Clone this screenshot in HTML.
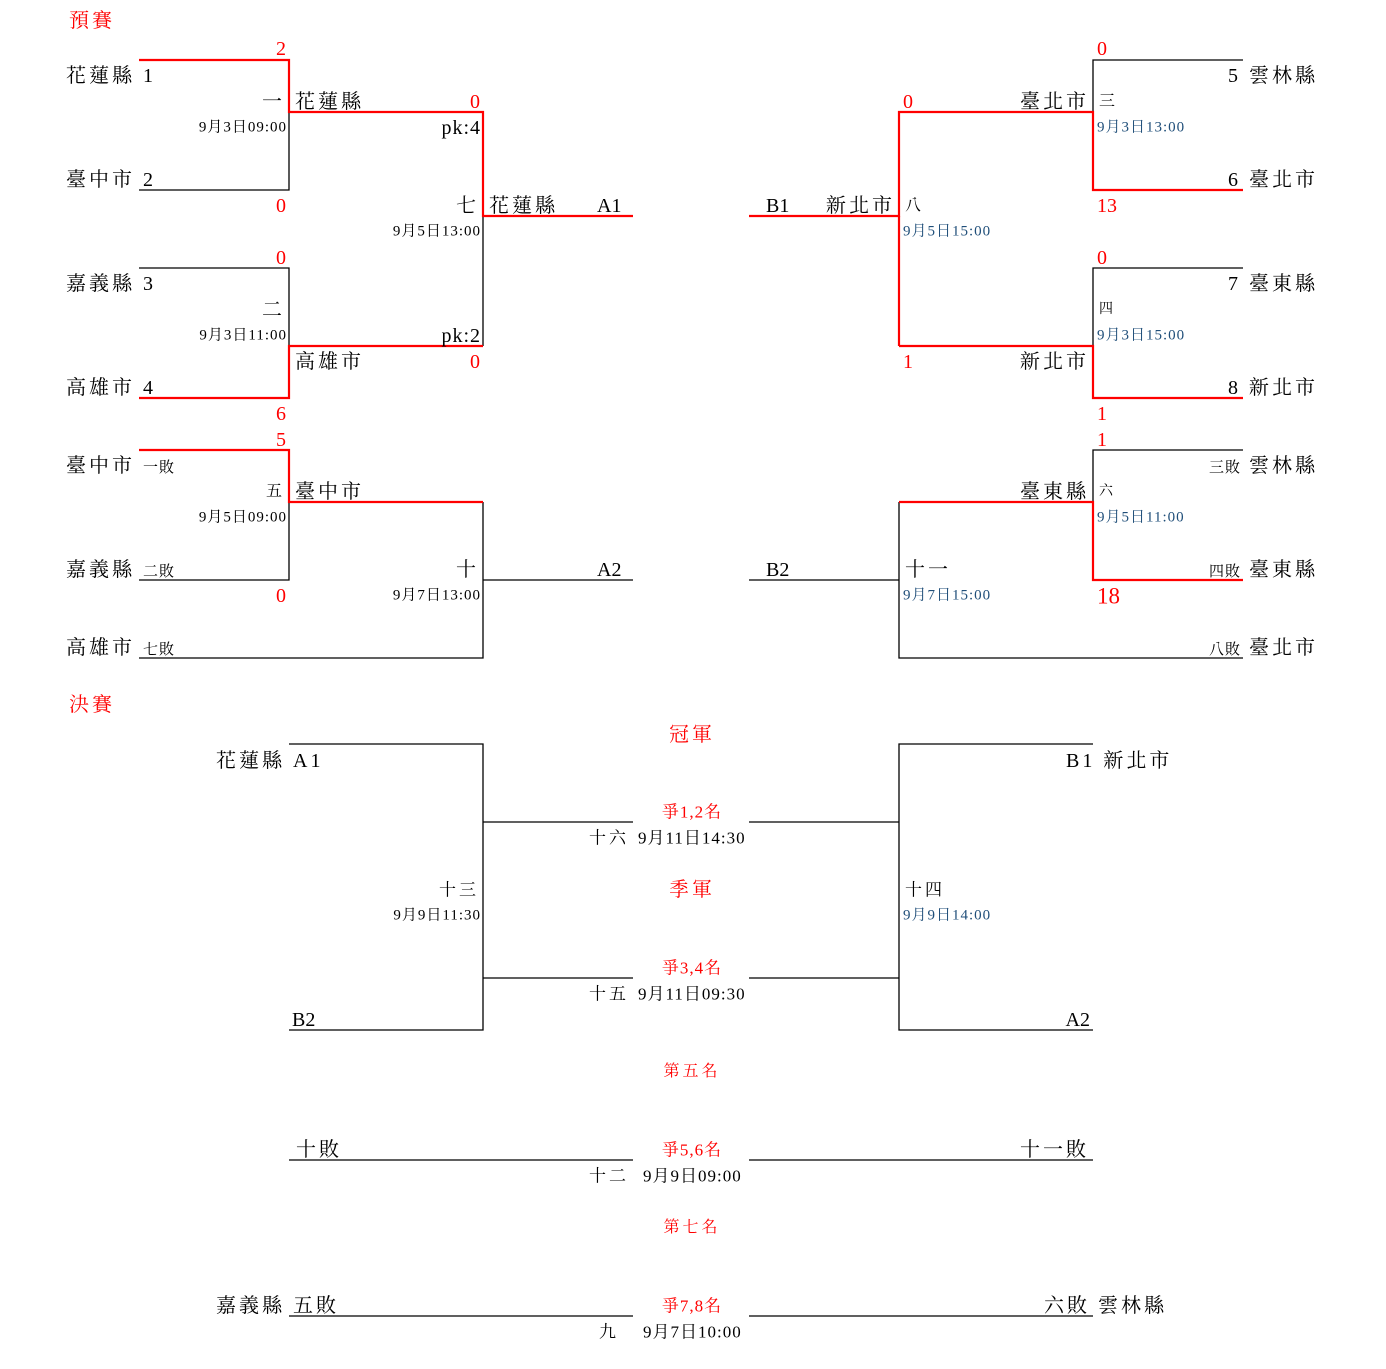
<!DOCTYPE html>
<html><head><meta charset="utf-8"><style>
html,body{margin:0;padding:0;background:#fff;}
body{width:1386px;height:1369px;position:relative;overflow:hidden;font-family:"Liberation Serif","Noto Serif CJK TC",serif;color:#000;}
.t{position:absolute;white-space:nowrap;line-height:1;font-size:20px;letter-spacing:3px;transform:translateY(-50%);margin-top:1px;}
.r{color:#f00;}
.s{font-size:15px;letter-spacing:1px;}
.b{color:#1f4e79;}
.cx{transform:translate(-50%,-50%);}
svg{position:absolute;left:0;top:0;}
</style></head><body>
<svg width="1386" height="1369" fill="none" stroke-width="1.3">
<g stroke="#000">
<path d="M289 112V190H139"/>
<path d="M139 268H289V346"/>
<path d="M483 216V346"/>
<path d="M289 502V580H139"/>
<path d="M483 502V658H139"/>
<path d="M483 580H633"/>
<path d="M1243 60H1093V112"/>
<path d="M1243 268H1093V346"/>
<path d="M1243 450H1093V502"/>
<path d="M899 502V658H1243"/>
<path d="M749 580H899"/>
<path d="M289 744H483V1030H289"/>
<path d="M483 822H633M483 978H633"/>
<path d="M1093 744H899V1030H1093"/>
<path d="M749 822H899M749 978H899"/>
<path d="M289 1160H633M749 1160H1093"/>
<path d="M289 1316H633M749 1316H1093"/>
</g>
<g stroke="#f00" stroke-width="2.2">
<path d="M139 60H289V112H483V216H633"/>
<path d="M139 398H289V346H483"/>
<path d="M139 450H289V502H483"/>
<path d="M1243 190H1093V112H899V216H749"/>
<path d="M899 216V346"/>
<path d="M1243 398H1093V346H899"/>
<path d="M1243 580H1093V502H899"/>
</g>
</svg>

<div class="t r" style="left:69px;top:20px">預賽</div>
<div class="t" style="left:66px;top:75px">花蓮縣 1</div>
<div class="t r" style="left:276px;top:48px">2</div>
<div class="t" style="right:1101px;top:101px">一</div>
<div class="t" style="left:295px;top:101px">花蓮縣</div>
<div class="t r" style="left:470px;top:101px">0</div>
<div class="t s" style="right:1099px;top:127px">9月3日09:00</div>
<div class="t" style="right:905px;top:127px;letter-spacing:1px">pk:4</div>
<div class="t" style="left:66px;top:179px">臺中市 2</div>
<div class="t r" style="left:276px;top:205px">0</div>
<div class="t" style="right:907px;top:205px">七</div>
<div class="t" style="left:489px;top:205px">花蓮縣</div>
<div class="t" style="left:597px;top:205px;letter-spacing:0">A1</div>
<div class="t s" style="right:905px;top:231px">9月5日13:00</div>
<div class="t r" style="left:276px;top:257px">0</div>
<div class="t" style="left:66px;top:283px">嘉義縣 3</div>
<div class="t" style="right:1101px;top:309px">二</div>
<div class="t s" style="right:1099px;top:335px">9月3日11:00</div>
<div class="t" style="right:905px;top:335px;letter-spacing:1px">pk:2</div>
<div class="t" style="left:295px;top:361px">高雄市</div>
<div class="t r" style="left:470px;top:361px">0</div>
<div class="t" style="left:66px;top:387px">高雄市 4</div>
<div class="t r" style="left:276px;top:413px">6</div>
<div class="t r" style="left:276px;top:439px">5</div>
<div class="t" style="left:66px;top:465px">臺中市 <span class="s">一敗</span></div>
<div class="t" style="right:1101px;top:491px;font-size:16px">五</div>
<div class="t" style="left:295px;top:491px">臺中市</div>
<div class="t s" style="right:1099px;top:517px">9月5日09:00</div>
<div class="t" style="left:66px;top:569px">嘉義縣 <span class="s">二敗</span></div>
<div class="t" style="right:907px;top:569px">十</div>
<div class="t" style="left:597px;top:569px;letter-spacing:0">A2</div>
<div class="t r" style="left:276px;top:595px">0</div>
<div class="t s" style="right:905px;top:595px">9月7日13:00</div>
<div class="t" style="left:66px;top:647px">高雄市 <span class="s">七敗</span></div>

<div class="t r" style="left:1097px;top:48px">0</div>
<div class="t" style="right:68px;top:75px">5 雲林縣</div>
<div class="t r" style="left:903px;top:101px">0</div>
<div class="t" style="right:297px;top:101px">臺北市</div>
<div class="t" style="left:1099px;top:101px;font-size:16px">三</div>
<div class="t s b" style="left:1097px;top:127px">9月3日13:00</div>
<div class="t" style="right:68px;top:179px">6 臺北市</div>
<div class="t" style="left:766px;top:205px;letter-spacing:0">B1</div>
<div class="t" style="left:826px;top:205px">新北市</div>
<div class="t" style="left:905px;top:205px;font-size:16px">八</div>
<div class="t r" style="left:1097px;top:205px;letter-spacing:0">13</div>
<div class="t s b" style="left:903px;top:231px">9月5日15:00</div>
<div class="t r" style="left:1097px;top:257px">0</div>
<div class="t" style="right:68px;top:283px">7 臺東縣</div>
<div class="t" style="left:1099px;top:309px;font-size:14px">四</div>
<div class="t s b" style="left:1097px;top:335px">9月3日15:00</div>
<div class="t r" style="left:903px;top:361px">1</div>
<div class="t" style="right:297px;top:361px">新北市</div>
<div class="t" style="right:68px;top:387px">8 新北市</div>
<div class="t r" style="left:1097px;top:413px">1</div>
<div class="t r" style="left:1097px;top:439px">1</div>
<div class="t" style="right:68px;top:465px"><span class="s">三敗</span> 雲林縣</div>
<div class="t" style="right:297px;top:491px">臺東縣</div>
<div class="t" style="left:1099px;top:491px;font-size:14px">六</div>
<div class="t s b" style="left:1097px;top:517px">9月5日11:00</div>
<div class="t" style="left:766px;top:569px;letter-spacing:0">B2</div>
<div class="t" style="left:905px;top:569px">十一</div>
<div class="t" style="right:68px;top:569px"><span class="s">四敗</span> 臺東縣</div>
<div class="t r" style="left:1097px;top:595px;font-size:23px;letter-spacing:0">18</div>
<div class="t s b" style="left:903px;top:595px">9月7日15:00</div>
<div class="t" style="right:68px;top:647px"><span class="s">八敗</span> 臺北市</div>

<div class="t r" style="left:69px;top:704px">決賽</div>
<div class="t r cx" style="left:692px;top:734px">冠軍</div>
<div class="t" style="left:216px;top:760px">花蓮縣 A1</div>
<div class="t" style="left:1066px;top:760px">B1 新北市</div>
<div class="t r cx" style="left:692px;top:811px;font-size:17px;letter-spacing:1px">爭1,2名</div>
<div class="t" style="left:589px;top:837px;font-size:17px">十六</div>
<div class="t" style="left:638px;top:837px;font-size:17px;letter-spacing:1px">9月11日14:30</div>
<div class="t" style="right:907px;top:889px;font-size:17px">十三</div>
<div class="t r cx" style="left:692px;top:889px">季軍</div>
<div class="t" style="left:905px;top:889px;font-size:17px">十四</div>
<div class="t s" style="right:905px;top:915px">9月9日11:30</div>
<div class="t s b" style="left:903px;top:915px">9月9日14:00</div>
<div class="t r cx" style="left:692px;top:967px;font-size:17px;letter-spacing:1px">爭3,4名</div>
<div class="t" style="left:589px;top:993px;font-size:17px">十五</div>
<div class="t" style="left:638px;top:993px;font-size:17px;letter-spacing:1px">9月11日09:30</div>
<div class="t" style="left:292px;top:1019px;letter-spacing:0">B2</div>
<div class="t" style="right:296px;top:1019px;letter-spacing:0">A2</div>
<div class="t r cx" style="left:692px;top:1071px;font-size:16px">第五名</div>
<div class="t" style="left:296px;top:1149px">十敗</div>
<div class="t r cx" style="left:692px;top:1149px;font-size:17px;letter-spacing:1px">爭5,6名</div>
<div class="t" style="right:297px;top:1149px">十一敗</div>
<div class="t" style="left:589px;top:1175px;font-size:17px">十二</div>
<div class="t" style="left:643px;top:1175px;font-size:17px;letter-spacing:1px">9月9日09:00</div>
<div class="t r cx" style="left:692px;top:1227px;font-size:16px">第七名</div>
<div class="t" style="left:216px;top:1305px">嘉義縣 五敗</div>
<div class="t r cx" style="left:692px;top:1305px;font-size:17px;letter-spacing:1px">爭7,8名</div>
<div class="t" style="left:1044px;top:1305px">六敗 雲林縣</div>
<div class="t" style="left:599px;top:1331px;font-size:17px">九</div>
<div class="t" style="left:643px;top:1331px;font-size:17px;letter-spacing:1px">9月7日10:00</div>
</body></html>
